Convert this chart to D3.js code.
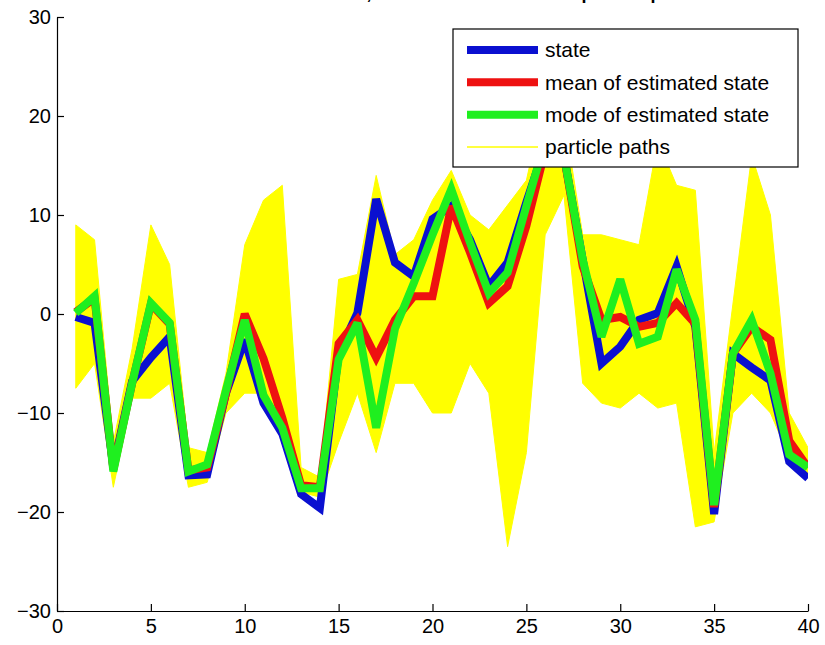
<!DOCTYPE html>
<html>
<head>
<meta charset="utf-8">
<script src="https://cdn.jsdelivr.net/npm/d3@7"></script>
<style>
  html, body { margin: 0; padding: 0; background: #ffffff; }
  svg { display: block; }
  text { font-family: "Liberation Sans", Arial, Helvetica, sans-serif; }
</style>
</head>
<body>
<svg id="chart" width="825" height="645"></svg>
<script>
// ---- data ----
const timeSteps = [1,2,3,4,5,6,7,8,9,10,11,12,13,14,15,16,17,18,19,20,
                   21,22,23,24,25,26,27,28,29,30,31,32,33,34,35,36,37,38,39,40];

const stateValues = [-0.3,-0.9,-15.5,-6.8,-4.4,-2.3,-16.3,-16.2,-8,-2.6,
                     -9,-12.1,-18.2,-19.6,-4,0.1,11.6,5.2,3.8,9.6,
                     10.9,7.5,2.8,5.2,11.3,17,16,5.5,-5,-3.3,
                     -0.6,0.1,4.8,-1.3,-20.2,-4,-5.4,-6.7,-14.9,-16.6];

const meanValues = [0.2,1.6,-15.7,-7,1,-1,-15.8,-15.5,-8,0,
                    -4.5,-10.5,-17.3,-17.5,-3,-0.6,-4.4,-0.6,1.8,1.8,
                    10.9,6.2,1.1,2.8,8.9,16.5,16,4.8,-0.6,-0.3,
                    -1.3,-0.9,1.1,-1,-19.5,-4,-1.3,-2.6,-12.8,-15.5];

const modeValues = [0.1,1.8,-15.9,-7,1.1,-0.9,-15.9,-15.2,-7.7,-0.6,
                    -8.2,-11.5,-17.6,-17.6,-4.6,-0.9,-11.5,-1.5,3.1,8,
                    12.6,7.2,2.1,4.2,10.9,17.5,16,5.5,-2.3,3.5,
                    -3,-2.3,4.5,-0.6,-19.3,-4,-0.6,-6,-14.2,-15.5];

// envelope of the particle paths (upper and lower extent at each step)
const particleUpper = [9,7.5,-13,-3.5,9,5,-13.5,-14,-6,7,
                       11.5,13,-15.5,-16.5,3.5,4,14,6,7.5,11.5,
                       14.5,10,8.5,11,13.5,22,20,8,8,7.5,
                       7,17.5,13,12.5,-14,1,16,10,-10,-13.5];
const particleLower = [-7.5,-5,-17.5,-8.5,-8.5,-7,-17.5,-17,-10,-8,
                       -8,-12.5,-18,-18.5,-13,-8,-14,-7,-7,-10,
                       -10,-5,-8,-23.5,-14,8,12,-7,-9,-9.5,
                       -8,-9.5,-9,-21.5,-21,-10,-8,-10,-14.5,-16.5];

const xTicks = [0,5,10,15,20,25,30,35,40];
const yTicks = [-30,-20,-10,0,10,20,30];

const legendLabels = ["state","mean of estimated state","mode of estimated state","particle paths"];
const titleText = "Particle filter: true state, estimated state and the particle paths";

// ---- layout ----
const svg = d3.select("#chart");
const x = d3.scaleLinear().domain([0,40]).range([57,808]);
const y = d3.scaleLinear().domain([-30,30]).range([611,17]);

const colors = { state:"#0a10d0", mean:"#ee1111", mode:"#1fef1f", particle:"#ffff00" };

// title (mostly cut off at top, as in reference)
svg.append("text")
  .attr("x", 432).attr("y", -1)
  .attr("text-anchor","middle")
  .attr("font-size", 18).attr("font-weight","bold")
  .text(titleText);

svg.append("clipPath").attr("id","plotclip")
  .append("rect").attr("x",57).attr("y",17).attr("width",751).attr("height",594);

const plot = svg.append("g").attr("clip-path","url(#plotclip)");

// particle cloud
const band = timeSteps.map((t,i)=>({t, hi:particleUpper[i], lo:particleLower[i]}));
plot.append("path")
  .datum(band)
  .attr("fill", colors.particle)
  .attr("stroke", colors.particle)
  .attr("stroke-width", 1)
  .attr("d", d3.area().x(d=>x(d.t)).y0(d=>y(d.lo)).y1(d=>y(d.hi)));

const line = d3.line().x(d=>x(d.t)).y(d=>y(d.v));
function series(vals, color){
  plot.append("path")
    .datum(timeSteps.map((t,i)=>({t, v:vals[i]})))
    .attr("fill","none")
    .attr("stroke", color)
    .attr("stroke-width", 8)
    .attr("stroke-linejoin","miter")
    .attr("stroke-miterlimit", 3)
    .attr("d", line);
}
series(stateValues, colors.state);
series(meanValues, colors.mean);
series(modeValues, colors.mode);

// axes (MATLAB style, ticks inward, no box)
const gx = svg.append("g").attr("transform","translate(0,611)")
  .call(d3.axisBottom(x).tickValues(xTicks).tickSizeInner(-7).tickSizeOuter(0).tickPadding(8));
const gy = svg.append("g").attr("transform","translate(57,0)")
  .call(d3.axisLeft(y).tickValues(yTicks).tickSizeInner(-7).tickSizeOuter(0).tickPadding(6));
[gx, gy].forEach(g=>{
  g.selectAll("path.domain").attr("stroke","#000").attr("stroke-width",1.2);
  g.selectAll(".tick line").attr("stroke","#000").attr("stroke-width",1.2);
  g.selectAll(".tick text").attr("fill","#000").attr("font-size",20)
    .attr("font-family","'Liberation Sans', Arial, sans-serif");
});

// legend
const lg = svg.append("g");
lg.append("rect").attr("x",453).attr("y",29).attr("width",345).attr("height",138)
  .attr("fill","#fff").attr("stroke","#000").attr("stroke-width",1.2);
const legendColors = [colors.state, colors.mean, colors.mode, colors.particle];
const legendWidths = [8,8,8,1.5];
const ly = d3.scalePoint().domain(legendLabels).range([50,147]);
legendLabels.forEach((lab,i)=>{
  lg.append("line").attr("x1",467).attr("x2",538)
    .attr("y1",ly(lab)).attr("y2",ly(lab))
    .attr("stroke",legendColors[i]).attr("stroke-width",legendWidths[i]);
  lg.append("text").attr("x",545).attr("y",ly(lab))
    .attr("dy","0.35em").attr("font-size",21).attr("fill","#000").text(lab);
});
</script>
</body>
</html>
